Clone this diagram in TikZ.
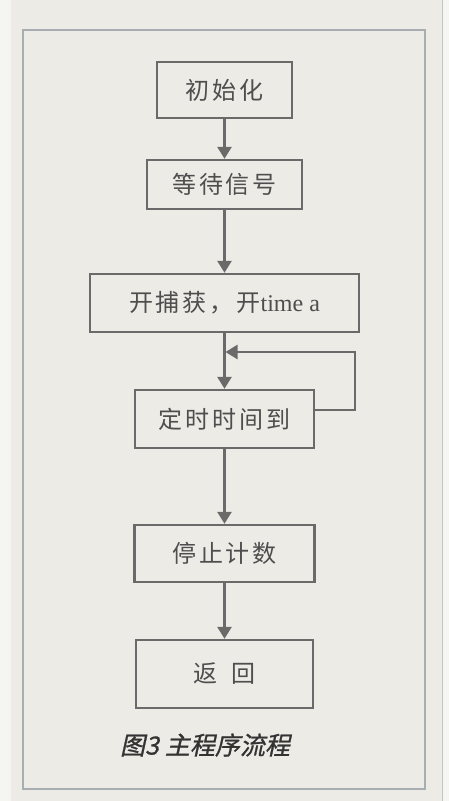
\documentclass[tikz,border=0pt]{standalone}
\usepackage{fontspec}
\setmainfont{Liberation Serif}
\newfontfamily\cjk[LetterSpace=12]{Noto Sans CJK SC}
\newfontfamily\cjkcap[FakeSlant=0.22,FakeBold=1]{Noto Sans CJK SC}
\usetikzlibrary{arrows.meta}
\definecolor{pagebg}{HTML}{ECEBE6}
\definecolor{outbg}{HTML}{F5F5F2}
\definecolor{framec}{HTML}{A8ADB1}
\definecolor{linec}{HTML}{6A6A6A}
\definecolor{textc}{HTML}{4E4E4E}
\definecolor{capc}{HTML}{333333}
\tikzset{
  flowbox/.style={draw=linec, line width=2.4pt, fill=pagebg, inner sep=0pt,
    font=\fontsize{24}{28}\selectfont\cjk, text=textc},
  flowarrow/.style={draw=linec, line width=2.6pt,
    -{Triangle[width=14pt,length=12pt]}},
}
\begin{document}
\begin{tikzpicture}[x=1pt,y=-1pt]
\useasboundingbox (0,0) rectangle (449,801);
\fill[outbg] (0,0) rectangle (449,801);
\fill[pagebg] (11,0) rectangle (442,801);
\draw[framec!70, line width=1pt] (442,0) -- (442,801);
\draw[framec, line width=1.6pt] (23,30) rectangle (425,789);

\node[flowbox, minimum width=135pt, minimum height=56pt] (b1) at (224.5,90) {初始化};
\node[flowbox, minimum width=155pt, minimum height=49pt] (b2) at (224.5,184.5) {等待信号};
\node[flowbox, minimum width=269pt, minimum height=58pt] (b3) at (224.5,303) {开捕获，开{\rmfamily time a}};
\node[flowbox, minimum width=179pt, minimum height=58pt] (b4) at (224.5,419) {定时时间到};
\node[flowbox, minimum width=180pt, minimum height=57pt] (b5) at (224.5,553.5) {停止计数};
\node[flowbox, minimum width=177pt, minimum height=68pt] (b6) at (224.5,674) {返\hspace{14pt}回};

\coordinate (loopx) at (355,352);
\coordinate (join) at (224.5,352);

\draw[flowarrow] (b1) -- (b2);
\draw[flowarrow] (b2) -- (b3);
\draw[flowarrow] (b3) -- (b4);
\draw[flowarrow] ([yshift=9pt]b4.east) -| (loopx) -- ([xshift=1pt]join);
\draw[flowarrow] (b4) -- (b5);
\draw[flowarrow] (b5) -- (b6);

\node[font=\fontsize{25}{28}\selectfont\cjkcap, text=capc] (cap) at (205,745) {图3\hspace{6pt}主程序流程};
\end{tikzpicture}
\end{document}
